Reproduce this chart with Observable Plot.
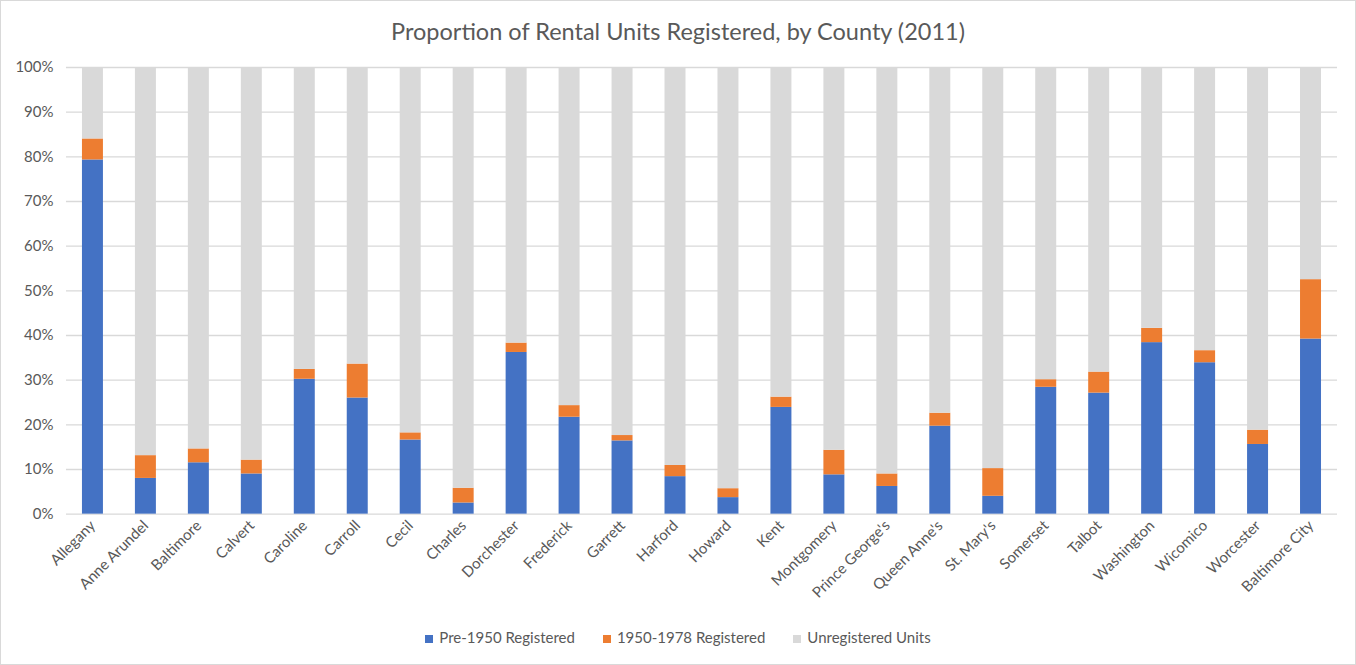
<!DOCTYPE html>
<html>
<head>
<meta charset="utf-8">
<script src="https://cdn.jsdelivr.net/npm/d3@7"></script>
<script src="https://cdn.jsdelivr.net/npm/@observablehq/plot@0.6"></script>
<style>
  html, body { margin: 0; padding: 0; background: #fff; }
  #chart { position: relative; width: 1356px; height: 665px; box-sizing: border-box; border: 1px solid #d9d9d9; font-family: Lato, "Noto Sans", sans-serif; color: #595959; overflow: hidden; }
  #title { position: absolute; left: 0; top: 15px; width: 100%; text-align: center; font-size: 23.5px; line-height: 30px; }
  #plot { position: absolute; left: -1px; top: 53px; }
  #legend { position: absolute; left: 0; top: 627px; width: 100%; display: flex; justify-content: center; gap: 28px; font-size: 15px; line-height: 19px; }
  #legend span.sw { display: inline-block; width: 8px; height: 8px; margin-right: 6px; vertical-align: 0px; }
</style>
</head>
<body>
<div id="chart">
  <div id="title">Proportion of Rental Units Registered, by County (2011)</div>
  <div id="plot"></div>
  <div id="legend"></div>
</div>
<script>
const counties = ["Allegany","Anne Arundel","Baltimore","Calvert","Caroline","Carroll","Cecil","Charles","Dorchester","Frederick","Garrett","Harford","Howard","Kent","Montgomery","Prince George's","Queen Anne's","St. Mary's","Somerset","Talbot","Washington","Wicomico","Worcester","Baltimore City"];
const pre1950 = [79.3, 8.0, 11.5, 9.0, 30.2, 26.0, 16.6, 2.5, 36.2, 21.7, 16.4, 8.4, 3.7, 23.9, 8.8, 6.2, 19.7, 4.0, 28.4, 27.1, 38.4, 33.9, 15.6, 39.2];
const reg1950to1978 = [4.7, 5.1, 3.1, 3.1, 2.2, 7.6, 1.6, 3.3, 2.1, 2.6, 1.2, 2.5, 2.0, 2.3, 5.5, 2.8, 2.9, 6.2, 1.7, 4.7, 3.2, 2.7, 3.2, 13.3];
const unregistered = [16.0, 86.9, 85.4, 87.9, 67.6, 66.4, 81.8, 94.2, 61.7, 75.7, 82.4, 89.1, 94.3, 73.8, 85.7, 91.0, 77.4, 89.8, 69.9, 68.2, 58.4, 63.4, 81.2, 47.5];
const seriesNames = ["Pre-1950 Registered", "1950-1978 Registered", "Unregistered Units"];
const seriesColors = ["#4472C4", "#ED7D31", "#D9D9D9"];
const yTicks = [0, 0.1, 0.2, 0.3, 0.4, 0.5, 0.6, 0.7, 0.8, 0.9, 1.0];

const seriesValues = [pre1950, reg1950to1978, unregistered];
const table = counties.flatMap((c, i) => seriesNames.map((s, k) => ({county: c, series: s, value: seriesValues[k][i] / 100})));

const plot = Plot.plot({
  width: 1356,
  height: 557,
  marginTop: 13,
  marginBottom: 97,
  marginLeft: 66,
  marginRight: 18,
  style: {fontFamily: "Lato, 'Noto Sans', sans-serif", fontSize: "15px", color: "#595959", background: "transparent"},
  x: {domain: counties, paddingInner: 0.61, paddingOuter: 0.305},
  y: {domain: [0, 1]},
  color: {domain: seriesNames, range: seriesColors},
  marks: [
    Plot.ruleY(yTicks, {stroke: "#d9d9d9", strokeWidth: 1.3}),
    Plot.barY(table, {x: "county", y: "value", fill: "series", order: seriesNames}),
    Plot.axisY(yTicks, {tickSize: 0, tickPadding: 13, tickFormat: d => Math.round(d * 100) + "%", label: null, fontSize: 15, fill: "#595959"}),
    Plot.axisX({tickSize: 0, tickPadding: 9, tickRotate: -45, label: null, fontSize: 15, fill: "#595959"})
  ]
});
document.getElementById("plot").appendChild(plot);

const legend = document.getElementById("legend");
seriesNames.forEach((s, k) => {
  const item = document.createElement("div");
  const sw = document.createElement("span");
  sw.className = "sw";
  sw.style.background = seriesColors[k];
  item.appendChild(sw);
  item.appendChild(document.createTextNode(s));
  legend.appendChild(item);
});
</script>
</body>
</html>
